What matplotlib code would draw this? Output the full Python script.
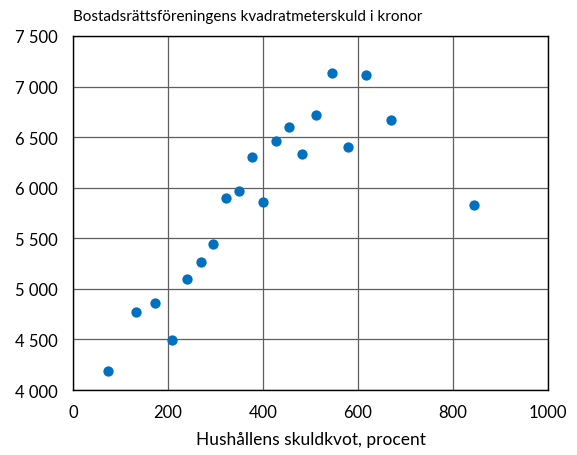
import matplotlib
matplotlib.use('Agg')
import matplotlib.pyplot as plt
from matplotlib.ticker import FuncFormatter

# Debt ratio (percent) vs. association debt per square metre (SEK)
skuldkvot = [74, 132, 172, 208, 239, 269, 294, 322, 350, 376, 401,
             427, 454, 482, 511, 545, 579, 617, 670, 844]
kvm_skuld = [4185, 4774, 4863, 4491, 5097, 5268, 5440, 5897, 5969, 6299, 5861,
             6457, 6599, 6329, 6714, 7132, 6401, 7119, 6665, 5825]

x_ticks = [0, 200, 400, 600, 800, 1000]
y_ticks = [4000, 4500, 5000, 5500, 6000, 6500, 7000, 7500]

BLUE = '#0070C0'

plt.rcParams['font.family'] = ['Lato', 'DejaVu Sans']

fig = plt.figure(figsize=(5.77, 4.56), dpi=100)
ax = fig.add_axes([0.1265, 0.1425, 0.8232, 0.7764])

ax.scatter(skuldkvot, kvm_skuld, s=55, color=BLUE, zorder=3, linewidths=0)

ax.set_xlim(0, 1000)
ax.set_ylim(4000, 7500)
ax.set_xticks(x_ticks)
ax.set_yticks(y_ticks)
ax.yaxis.set_major_formatter(FuncFormatter(lambda v, p: f'{int(v):,}'.replace(',', ' ')))
ax.tick_params(length=0, labelsize=12, pad=11)
ax.tick_params(axis='x', pad=10)
ax.grid(True, color='#5f5f5f', linewidth=0.9)
ax.set_axisbelow(True)
for sp in ax.spines.values():
    sp.set_color('black')
    sp.set_linewidth(1.0)

ax.set_xlabel('Hushållens skuldkvot, procent', fontsize=12.5, labelpad=8)
fig.text(0.1265, 0.948, 'Bostadsrättsföreningens kvadratmeterskuld i kronor',
         fontsize=11, ha='left', va='bottom')

fig.savefig('out.png', dpi=100)
